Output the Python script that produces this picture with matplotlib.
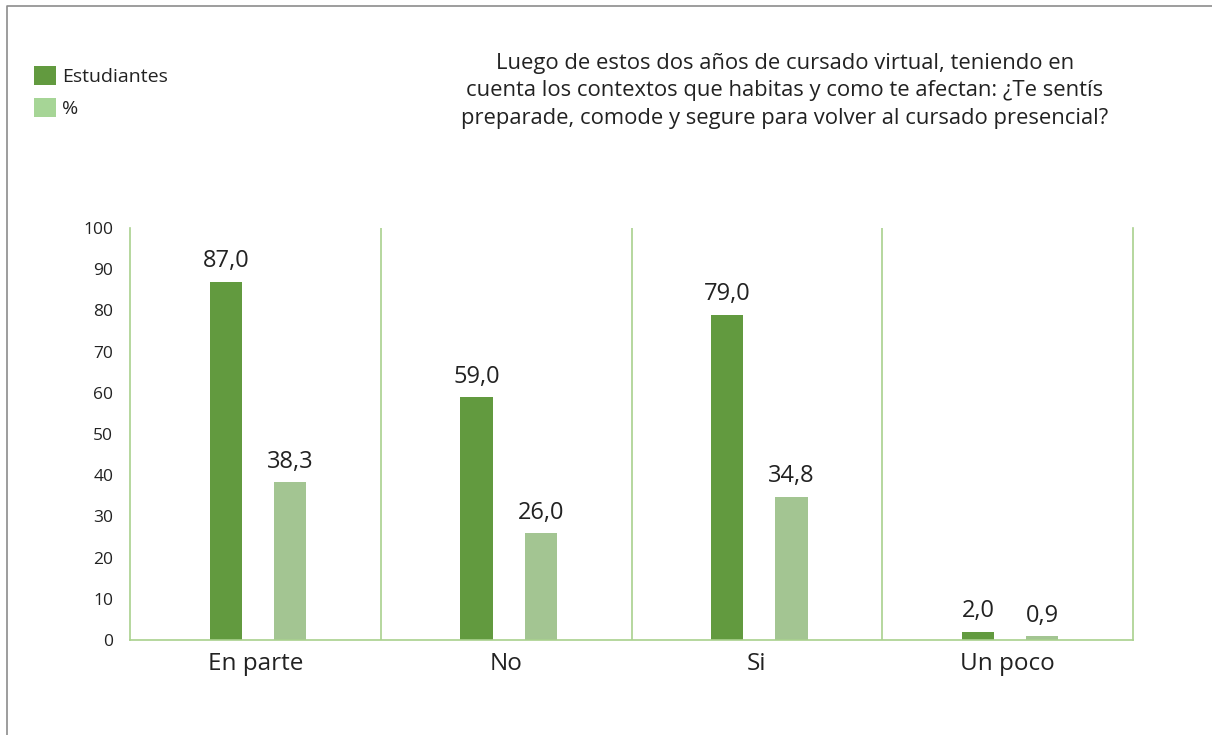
import matplotlib
matplotlib.use("Agg")
import matplotlib.pyplot as plt
import numpy as np
from matplotlib.patches import Patch
from matplotlib.lines import Line2D

plt.rcParams['font.family'] = ['Open Sans', 'DejaVu Sans']

# data
categorias = ['En parte', 'No', 'Si', 'Un poco']
estudiantes = [87.0, 59.0, 79.0, 2.0]
porcentaje = [38.3, 26.0, 34.8, 0.9]
series_names = ['Estudiantes', '%']
titulo = ('Luego de estos dos años de cursado virtual, teniendo en\n'
          'cuenta los contextos que habitas y como te afectan: ¿Te sentís\n'
          'preparade, comode y segure para volver al cursado presencial?')

dark = '#629a3f'
light = '#a3c592'
line_green = '#a9d18e'
txt = '#222222'

fig = plt.figure(figsize=(12.12, 7.35), dpi=100)
ax = fig.add_axes([130 / 1212, 1 - 640 / 735, (1133 - 130) / 1212, (640 - 228) / 735])

x = np.arange(len(categorias))
w = 0.128
b1 = ax.bar(x - w + 0.01, estudiantes, w, color=dark)
b2 = ax.bar(x + w + 0.01, porcentaje, w, color=light)

def fmt(v):
    return f"{v:.1f}".replace('.', ',')

for bars, vals in ((b1, estudiantes), (b2, porcentaje)):
    for r, v in zip(bars, vals):
        ax.annotate(fmt(v), (r.get_x() + r.get_width() / 2, v), xytext=(0, 6),
                    textcoords='offset points', ha='center', va='bottom',
                    fontsize=17, color=txt)

ax.set_xlim(-0.5, len(categorias) - 0.5)
ax.set_ylim(0, 100)
ax.set_yticks(range(0, 101, 10))
ax.set_xticks(x)
ax.set_xticklabels(categorias, fontsize=17.5, color=txt)
ax.tick_params(axis='y', length=0, pad=12, labelsize=12.5, labelcolor=txt)
ax.tick_params(axis='x', length=0, pad=9)

ax.spines['top'].set_visible(False)
for s in ['left', 'right', 'bottom']:
    ax.spines[s].set_color(line_green)
    ax.spines[s].set_linewidth(1.2)
for sep in x[:-1] + 0.5:
    ax.axvline(sep, color=line_green, lw=1.2)

# title
fig.text(785 / 1212, 1 - 53 / 735, titulo, ha='center', va='top', fontsize=15.8,
         color=txt, linespacing=1.4)

# legend
handles = [Patch(facecolor=dark), Patch(facecolor='#a6d596')]
fig.legend(handles, series_names, loc='upper left', bbox_to_anchor=(34 / 1212, 1 - 66 / 735),
           frameon=False, fontsize=14, handlelength=1.13, handleheight=1.13,
           handletextpad=0.3, labelspacing=0.6, labelcolor=txt,
           borderpad=0, borderaxespad=0)

# border
fig.add_artist(Line2D([7 / 1212, 7 / 1212, 1], [0, 1 - 6 / 735, 1 - 6 / 735],
                      transform=fig.transFigure, color='#8c8c8c', lw=1.2))

fig.savefig('out.png', dpi=100)
